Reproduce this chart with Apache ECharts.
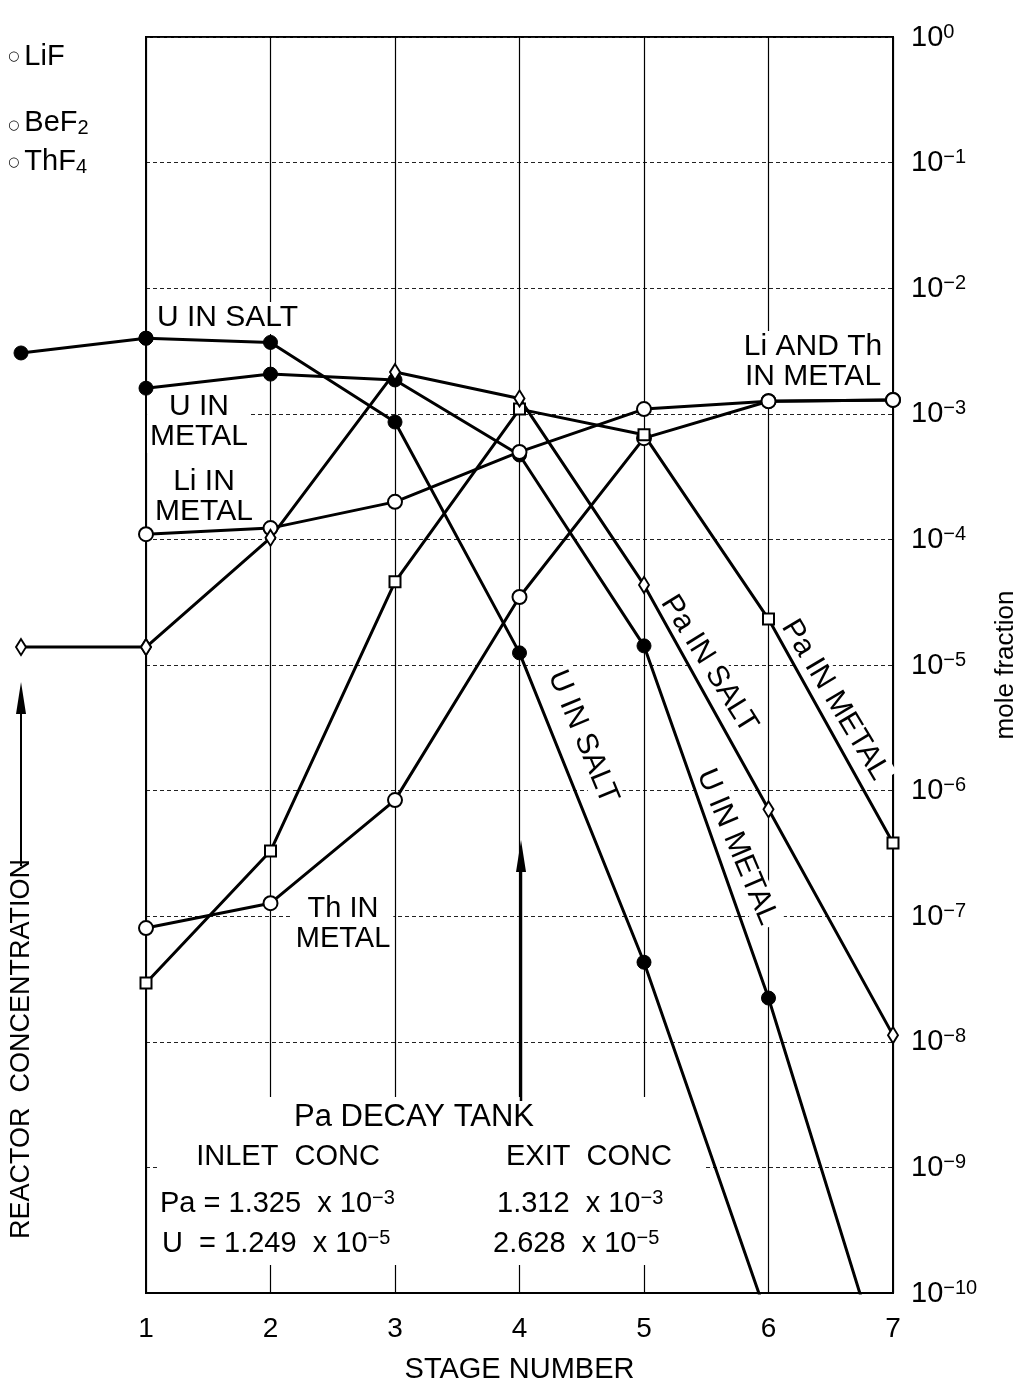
<!DOCTYPE html>
<html>
<head>
<meta charset="utf-8">
<script src="https://cdn.jsdelivr.net/npm/echarts@6/dist/echarts.min.js"></script>
<style>
  html, body { margin: 0; padding: 0; background: #fff; }
  #chart { width: 1027px; height: 1385px; }
</style>
</head>
<body>
<div id="chart"></div>
<script>
// Stage axis
const stageLabels = ['1', '2', '3', '4', '5', '6', '7'];
const stages = [1, 2, 3, 4, 5, 6, 7];
const reactorStage = 0;

// Mole fractions per extraction stage (stage 1 first)
const uInSalt  = [4.0e-3, 3.7e-3, 8.6e-4, 1.249e-5, 4.3e-8, 6.0e-11];
const uInMetal = [1.6e-3, 2.07e-3, 1.86e-3, 4.7e-4, 1.42e-5, 2.23e-8, 1.4e-11];
const paInSalt = [1.39e-5, 1.03e-4, 2.15e-3, 1.325e-3, 4.34e-5, 7.1e-7, 1.13e-8];
const paInMetal = [2.94e-8, 3.3e-7, 4.6e-5, 1.09e-3, 6.8e-4, 2.32e-5, 3.83e-7];
const liInMetal = [1.10e-4, 1.23e-4, 1.99e-4, 4.97e-4, 1.09e-3, 1.26e-3, 1.29e-3];
const thInMetal = [8.05e-8, 1.27e-7, 8.4e-7, 3.48e-5, 6.4e-4, 1.26e-3, 1.29e-3];

// Reactor concentrations
const reactorUInSalt = 3.05e-3;
const reactorPaInSalt = 1.39e-5;

const FONT = '"Liberation Sans", Arial, Helvetica, sans-serif';

const chart = echarts.init(document.getElementById('chart'), null, { renderer: 'canvas' });

const toPairs = arr => arr.map((v, i) => [stages[i], v]);

const symFilled = { color: '#000', borderColor: '#000', borderWidth: 1, opacity: 1 };
const symOpen = { color: '#fff', borderColor: '#000', borderWidth: 2, opacity: 1 };

function curve(name, values, symbol, size, itemStyle) {
  return [
    {
      name, type: 'line', data: toPairs(values), showSymbol: false, clip: true, z: 3,
      lineStyle: { color: '#000', width: 3 }, silent: true
    },
    {
      name, type: 'scatter', data: toPairs(values), symbol, symbolSize: size, clip: true, z: 4,
      itemStyle, silent: true
    }
  ];
}

// reactor -> stage 1 links live on a narrow side grid left of the stage grid
function reactorLink(name, reactorValue, stageOneValue, symbol, size, itemStyle) {
  return {
    name, type: 'line', clip: false, z: 4, silent: true,
    xAxisIndex: 1, yAxisIndex: 1,
    data: [[reactorStage, reactorValue], [stages[0], stageOneValue]],
    symbol, symbolSize: size, showSymbol: true, itemStyle,
    lineStyle: { color: '#000', width: 3 }
  };
}

const supRich = {
  b: { fontSize: 29, fontFamily: FONT, color: '#000', lineHeight: 30, padding: [8, 0, 0, 0], verticalAlign: 'bottom' },
  s: { fontSize: 20, fontFamily: FONT, color: '#000', lineHeight: 20, verticalAlign: 'top' }
};

function decadeLabel(v) {
  const e = Math.round(Math.log10(v));
  const exp = e < 0 ? '\u2212' + Math.abs(e) : String(e);
  return '{b|10}{s|' + exp + '}';
}

function txt(x, y, text, extra) {
  return {
    type: 'text', x, y, z: 1,
    style: Object.assign({
      text, fill: '#000', fontSize: 30, fontFamily: FONT,
      align: 'center', verticalAlign: 'middle', lineHeight: 30
    }, extra || {})
  };
}

const deg = d => d * Math.PI / 180;

const bgText = { backgroundColor: '#fff', padding: [1, 3] };

const saltRich = (ring, sub) => ({
  c: Object.assign({ fontSize: 13, fontFamily: '"DejaVu Sans", sans-serif', lineHeight: 14, padding: [0, 5, 0, 0] }, ring),
  t: { fontSize: 29, fontFamily: FONT, lineHeight: 30, verticalAlign: 'top' },
  sub: Object.assign({ fontSize: 20, fontFamily: FONT, lineHeight: 20, padding: [17, 0, 0, 0], verticalAlign: 'bottom' }, sub)
});

const graphic = [
  // blank panel holding the decay tank notes
  { type: 'rect', z: 1, shape: { x: 160, y: 1097, width: 545, height: 168 }, style: { fill: '#fff' } },

  // salt components
  txt(8, 57, '{c|\u25cb}{t|LiF}', { align: 'left', rich: saltRich({ verticalAlign: 'middle' }) }),
  txt(8, 123, '{c|\u25cb}{t|BeF}{sub|2}', { align: 'left', rich: saltRich({ verticalAlign: 'bottom', padding: [0, 5, 6, 0] }) }),
  txt(8, 162, '{c|\u25cb}{t|ThF}{sub|4}', { align: 'left', rich: saltRich({ verticalAlign: 'top', padding: [9, 5, 0, 0] }) }),

  // curve names
  txt(154, 318, 'U IN SALT', Object.assign({ align: 'left' }, bgText)),
  txt(199, 422, 'U IN\nMETAL', bgText),
  txt(204, 497, 'Li IN\nMETAL', bgText),
  txt(343, 924, 'Th IN\nMETAL', Object.assign({}, bgText, { fontSize: 29 })),
  txt(813, 362, 'Li AND Th\nIN METAL', bgText),
  Object.assign(txt(583, 737, 'U IN SALT', bgText), { rotation: deg(-67.5) }),
  Object.assign(txt(737, 847, 'U IN METAL', bgText), { rotation: deg(-67) }),
  Object.assign(txt(709, 664, 'Pa IN SALT', bgText), { rotation: deg(-58) }),
  Object.assign(txt(835, 700, 'Pa IN METAL', bgText), { rotation: deg(-59) }),

  // decay tank notes
  txt(414, 1117, 'Pa DECAY TANK', { fontSize: 31 }),
  txt(288, 1157, 'INLET  CONC', { fontSize: 29 }),
  txt(589, 1157, 'EXIT  CONC', { fontSize: 29 }),
  txt(160, 1203, '{b|Pa = 1.325  x 10}{s|\u22123}', { align: 'left', rich: supRich }),
  txt(497, 1203, '{b|1.312  x 10}{s|\u22123}', { align: 'left', rich: supRich }),
  txt(162, 1243, '{b|U  = 1.249  x 10}{s|\u22125}', { align: 'left', rich: supRich }),
  txt(493, 1243, '{b|2.628  x 10}{s|\u22125}', { align: 'left', rich: supRich }),

  // reactor concentration marker
  Object.assign(txt(22, 1049, 'REACTOR  CONCENTRATION', { fontSize: 27 }), { rotation: deg(90) }),
  { type: 'line', z: 5, shape: { x1: 21, y1: 866, x2: 21, y2: 705 }, style: { stroke: '#000', lineWidth: 2 } },
  { type: 'polygon', z: 5, shape: { points: [[21, 682], [16, 714], [26, 714]] }, style: { fill: '#000' } },

  // decay tank feed point
  { type: 'line', z: 5, shape: { x1: 521, y1: 1101, x2: 521, y2: 860 }, style: { stroke: '#000', lineWidth: 2.5 } },
  { type: 'polygon', z: 5, shape: { points: [[521, 840], [516, 872], [526, 872]] }, style: { fill: '#000' } }
];

const option = {
  animation: false,
  backgroundColor: '#fff',
  grid: [
    {
      left: 146, right: 134, top: 37, bottom: 92,
      show: true, borderColor: '#000', borderWidth: 2, backgroundColor: 'transparent',
      containLabel: false, outerBoundsMode: 'none'
    },
    {
      left: 21, right: 881, top: 37, bottom: 92, show: false,
      containLabel: false, outerBoundsMode: 'none'
    }
  ],
  xAxis: [
    {
      type: 'value', min: 1, max: 7, interval: 1,
      axisLine: { show: true, lineStyle: { color: '#000', width: 2 } },
      axisTick: { show: false },
      axisLabel: {
        color: '#000', fontSize: 28, fontFamily: FONT, margin: 22,
        formatter: v => stageLabels[Math.round(v) - 1] || ''
      },
      splitLine: { show: true, lineStyle: { color: '#000', width: 1.2, type: 'solid' } },
      name: 'STAGE NUMBER', nameLocation: 'middle', nameGap: 62,
      nameTextStyle: { color: '#000', fontSize: 29, fontFamily: FONT }
    },
    { gridIndex: 1, type: 'value', min: reactorStage, max: stages[0], show: false }
  ],
  yAxis: [
    {
      type: 'log', logBase: 10, min: 1e-10, max: 1, interval: 1, splitNumber: 10,
      position: 'right',
      axisLine: { show: true, onZero: false, lineStyle: { color: '#000', width: 2 } },
      axisTick: { show: false },
      axisLabel: {
        margin: 18, formatter: decadeLabel, rich: supRich, color: '#000'
      },
      splitLine: { show: true, lineStyle: { color: '#222', width: 1, type: [4, 3] } },
      name: 'mole fraction', nameLocation: 'middle', nameRotate: 90, nameGap: 100,
      nameTextStyle: { color: '#000', fontSize: 26, fontFamily: FONT }
    },
    { gridIndex: 1, type: 'log', logBase: 10, min: 1e-10, max: 1, show: false }
  ],
  series: [
    ...curve('U in salt', uInSalt, 'circle', 14, symFilled),
    ...curve('U in metal', uInMetal, 'circle', 14, symFilled),
    ...curve('Li in metal', liInMetal, 'circle', 14, symOpen),
    ...curve('Th in metal', thInMetal, 'circle', 14, symOpen),
    ...curve('Pa in metal', paInMetal, 'rect', 11, symOpen),
    ...curve('Pa in salt', paInSalt, 'diamond', [10, 16], symOpen),
    reactorLink('U in salt, reactor', reactorUInSalt, uInSalt[0], 'circle', 14, symFilled),
    reactorLink('Pa in salt, reactor', reactorPaInSalt, paInSalt[0], 'diamond', [10, 16], symOpen)
  ],
  graphic
};

chart.setOption(option);
</script>
</body>
</html>
